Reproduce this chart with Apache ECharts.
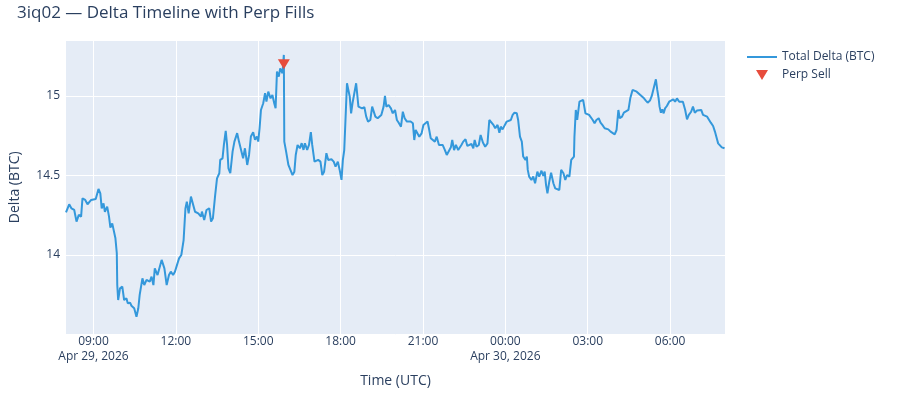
<!DOCTYPE html>
<html>
<head>
<meta charset="utf-8">
<title>3iq02 Delta Timeline</title>
<script src="https://cdn.jsdelivr.net/npm/echarts@6/dist/echarts.min.js"></script>
<style>
  html, body { margin: 0; padding: 0; background: #fff; }
  #main { width: 900px; height: 400px; }
</style>
</head>
<body>
<div id="main"></div>
<script>
// start of the window: minutes after Apr 29 00:00 UTC
var startMinute = 480;
var dayLabels = ['Apr 29, 2026', 'Apr 30, 2026'];
// x ticks, minutes after Apr 29 00:00 UTC (09:00 ... 06:00)
var xTicks = [540, 720, 900, 1080, 1260, 1440, 1620, 1800];
var yTicks = [14, 14.5, 15];

// minutes after 08:00 UTC
var fillMinutes = [
  0, 7, 12, 18, 23, 28, 33, 36, 42, 47, 55, 65, 71, 75, 78, 82, 85, 90, 94, 97,
  101, 105, 108, 111, 112, 114, 118, 123, 127, 132, 135, 140, 143, 149, 154, 158, 161, 167, 171, 176,
  183, 187, 191, 194, 200, 209, 215, 220, 225, 229, 234, 238, 242, 247, 252, 257, 261, 264, 268, 273,
  277, 282, 289, 295,
  297, 302, 307, 313, 317, 321, 326, 330, 335, 337, 342, 345, 349, 352, 355, 359, 364, 368, 374, 378,
  382, 387, 391, 396, 400, 404, 409, 413, 417, 420, 423, 426, 431, 435, 438, 442, 447, 451, 455, 458,
  461, 465, 468, 473, 476, 477, 481, 486, 490, 495, 499, 502, 506, 511, 515, 519, 522, 527, 531, 535,
  538, 543, 547, 551, 556, 560, 564, 569, 573, 577,
  580, 585, 589, 594, 598, 602, 605, 608, 611, 614, 617, 620, 623, 626, 630, 634, 639, 643, 647, 652,
  656, 660, 665, 669, 673, 676, 681, 685, 689, 694, 697, 700, 705, 710, 714, 719, 723, 727, 732, 736,
  740, 745, 749, 753, 758, 761, 764, 768, 772, 777, 781, 785, 790, 793, 797, 801, 806, 810, 815, 819,
  823, 828, 832, 836, 841, 844, 848, 852, 857, 861,
  864, 868, 873, 877, 881, 886, 890, 893, 897, 902, 906, 911, 916, 921, 925, 929, 934, 938, 943, 947,
  950, 954, 959, 963, 967, 972, 976, 980, 985, 988, 992, 996, 999, 1004, 1007, 1009, 1012, 1017, 1021, 1025,
  1030, 1034, 1039, 1043, 1046, 1049, 1052, 1056, 1060, 1065, 1069, 1073, 1078, 1082, 1087, 1091, 1095, 1100, 1104, 1107,
  1110, 1111, 1114, 1117, 1122, 1126, 1130, 1135, 1139, 1143,
  1146, 1151, 1155, 1159, 1164, 1168, 1172, 1177, 1181, 1185, 1190, 1194, 1199, 1203, 1207, 1210, 1215, 1219, 1223, 1229,
  1233, 1238, 1242, 1247, 1251, 1255, 1258, 1263, 1267, 1271, 1276, 1280, 1284, 1289, 1292, 1295, 1297, 1300, 1303, 1306,
  1309, 1313, 1318, 1322, 1327, 1331, 1335, 1340, 1344, 1348, 1353, 1357, 1361, 1366, 1370, 1374, 1379, 1383, 1388, 1392,
  1396, 1401, 1405, 1409, 1414, 1418, 1423, 1425, 1428, 1433, 1439
];

var totalDelta = [
  14.268, 14.319, 14.293, 14.283, 14.210, 14.252, 14.241, 14.356, 14.346, 14.319, 14.346, 14.352, 14.415, 14.388, 14.293, 14.325, 14.272, 14.304, 14.241, 14.172,
  14.199, 14.189, 14.105, 14.011, 13.811, 13.717, 13.790, 13.801, 13.717, 13.728, 13.696, 13.700, 13.681, 13.665, 13.612, 13.665, 13.749, 13.853, 13.811, 13.843,
  13.832, 13.864, 13.811, 13.916, 13.874, 13.969, 13.916, 13.811, 13.874, 13.895, 13.874, 13.895, 13.885, 13.979, 14.000, 14.094, 14.293, 14.335, 14.262, 14.367,
  14.367, 14.272, 14.262, 14.241,
  14.273, 14.220, 14.283, 14.294, 14.210, 14.231, 14.378, 14.482, 14.514, 14.598, 14.608, 14.692, 14.780, 14.692, 14.545, 14.514, 14.650, 14.713, 14.766, 14.713,
  14.724, 14.608, 14.671, 14.566, 14.629, 14.745, 14.772, 14.724, 14.745, 14.713, 14.797, 14.912, 14.954, 15.017, 14.965, 15.027, 14.985, 15.006, 14.954, 14.923,
  15.153, 15.122, 15.174, 15.143, 15.258, 14.713, 14.650, 14.566, 14.556, 14.503, 14.524, 14.629, 14.692, 14.671, 14.703, 14.661, 14.703, 14.661, 14.692, 14.772,
  14.692, 14.587, 14.577, 14.598, 14.587, 14.503, 14.524, 14.640, 14.598, 14.587,
  14.602, 14.587, 14.556, 14.587, 14.535, 14.472, 14.598, 14.660, 14.870, 15.080, 15.038, 14.996, 14.891, 14.954, 15.017, 15.080, 14.933, 14.929, 14.922, 14.929,
  14.870, 14.839, 14.849, 14.933, 14.943, 14.870, 14.860, 14.870, 14.881, 14.933, 15.000, 14.933, 14.943, 14.922, 14.891, 14.912, 14.849, 14.832, 14.807, 14.901,
  14.860, 14.839, 14.849, 14.839, 14.828, 14.723, 14.786, 14.786, 14.744, 14.765, 14.818, 14.828, 14.839, 14.797, 14.734, 14.723, 14.713, 14.744, 14.692, 14.686,
  14.692, 14.660, 14.629, 14.640, 14.677, 14.723, 14.660, 14.692, 14.660, 14.665,
  14.692, 14.713, 14.728, 14.686, 14.677, 14.698, 14.671, 14.723, 14.681, 14.692, 14.755, 14.707, 14.681, 14.702, 14.849, 14.849, 14.818, 14.797, 14.818, 14.769,
  14.807, 14.790, 14.818, 14.839, 14.828, 14.849, 14.881, 14.895, 14.891, 14.849, 14.744, 14.713, 14.619, 14.598, 14.619, 14.535, 14.493, 14.472, 14.493, 14.451,
  14.524, 14.493, 14.530, 14.497, 14.524, 14.440, 14.388, 14.461, 14.518, 14.451, 14.419, 14.430, 14.409, 14.535, 14.514, 14.472, 14.503, 14.493, 14.598, 14.598,
  14.619, 14.744, 14.912, 14.849, 14.964, 14.954, 14.975, 14.891, 14.901, 14.881,
  14.870, 14.849, 14.828, 14.849, 14.860, 14.832, 14.818, 14.797, 14.786, 14.790, 14.776, 14.786, 14.759, 14.786, 14.912, 14.860, 14.870, 14.895, 14.901, 14.912,
  14.985, 15.038, 15.042, 15.027, 15.021, 15.006, 15.017, 14.985, 14.971, 14.958, 14.971, 15.000, 15.006, 15.105, 15.038, 14.985, 14.933, 14.895, 14.916, 14.891,
  14.922, 14.937, 14.964, 14.958, 14.979, 14.964, 14.985, 14.964, 14.958, 14.964, 14.912, 14.853, 14.881, 14.901, 14.933, 14.895, 14.908, 14.916, 14.912, 14.881,
  14.887, 14.870, 14.874, 14.832, 14.811, 14.776, 14.723, 14.702, 14.713, 14.677, 14.671
];

// perp sell fills
var sellMinutes = [476];
var sellDelta = [15.20];

var chart = echarts.init(document.getElementById('main'));

function toPoints(mins, vals) {
  return mins.map(function (m, i) { return [startMinute + m, vals[i]]; });
}

function pad(n) { return (n < 10 ? '0' : '') + n; }

var font = 'Open Sans';

var option = {
  backgroundColor: '#fff',
  animation: false,
  textStyle: { fontFamily: font, color: '#2a3f5f' },
  title: {
    text: '3iq02 — Delta Timeline with Perp Fills',
    left: 12,
    top: 0,
    textStyle: { fontFamily: font, fontSize: 17, fontWeight: 'normal', color: '#2a3f5f' }
  },
  legend: {
    orient: 'vertical',
    left: 746,
    top: 51,
    padding: 0,
    itemWidth: 30,
    itemHeight: 10,
    itemGap: 6,
    textStyle: { fontFamily: font, fontSize: 12, color: '#2a3f5f' },
    data: [
      { name: 'Total Delta (BTC)', itemStyle: { opacity: 0 } },
      { name: 'Perp Sell', icon: 'path://M0,0L12,0L6,10Z', itemStyle: { opacity: 1 } }
    ]
  },
  grid: {
    left: 65,
    right: 175,
    top: 40,
    bottom: 65.5,
    show: true,
    backgroundColor: '#E5ECF6',
    borderWidth: 0
  },
  xAxis: {
    type: 'value',
    min: startMinute,
    max: startMinute + 1440,
    name: 'Time (UTC)',
    nameLocation: 'middle',
    nameGap: 40,
    nameTextStyle: { fontFamily: font, fontSize: 14, color: '#2a3f5f' },
    axisLine: { show: false },
    axisTick: { show: false, customValues: xTicks },
    splitLine: { show: true, lineStyle: { color: '#fff', width: 1 } },
    axisLabel: {
      customValues: xTicks,
      margin: 0,
      fontSize: 12,
      color: '#2a3f5f',
      lineHeight: 15,
      formatter: function (v) {
        var h = Math.floor(v / 60) % 24;
        var s = pad(h) + ':00';
        if (v === xTicks[0] || v % 1440 === 0) {
          s += '\n' + dayLabels[Math.floor(v / 1440)];
        }
        return s;
      }
    }
  },
  yAxis: {
    type: 'value',
    min: 13.5,
    max: 15.352,
    interval: 0.5,
    name: 'Delta (BTC)',
    nameLocation: 'middle',
    nameGap: 44,
    nameTextStyle: { fontFamily: font, fontSize: 14, color: '#2a3f5f' },
    axisLine: { show: false },
    axisTick: { show: false },
    splitLine: { show: true, lineStyle: { color: '#fff', width: 1 } },
    axisLabel: {
      showMinLabel: false,
      showMaxLabel: false,
      margin: 6,
      fontSize: 12,
      color: '#2a3f5f',
      formatter: function (v) {
        return yTicks.indexOf(v) >= 0 ? String(v) : '';
      }
    }
  },
  series: [
    {
      name: 'Total Delta (BTC)',
      type: 'line',
      symbol: 'none',
      lineStyle: { color: '#3498db', width: 2 },
      itemStyle: { color: '#3498db' },
      data: toPoints(fillMinutes, totalDelta),
      z: 2
    },
    {
      name: 'Perp Sell',
      type: 'scatter',
      symbol: 'triangle',
      symbolRotate: 180,
      symbolSize: [12, 10],
      itemStyle: { color: '#e74c3c', opacity: 1 },
      data: toPoints(sellMinutes, sellDelta),
      z: 3
    }
  ]
};

chart.setOption(option);
</script>
</body>
</html>
